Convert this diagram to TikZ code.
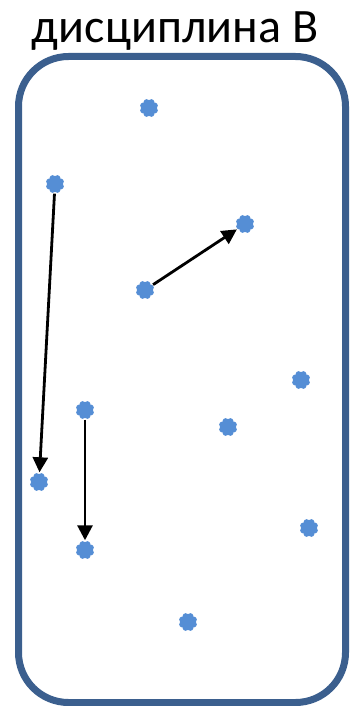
\documentclass[tikz,border=0pt]{standalone}
\usepackage{fontspec}
\setmainfont{Carlito}
\usetikzlibrary{arrows.meta}
\definecolor{frameblue}{HTML}{3B5F8E}
\definecolor{dotblue}{HTML}{558ED5}
\tikzset{
  frame/.style={draw=frameblue, line width=7pt, rounded corners=50pt},
  dotnode/.style={circle, inner sep=0pt, minimum size=19pt},
  link/.style={line width=2.8pt, -{Triangle[width=15pt,length=15pt]}},
  heading/.style={font=\fontsize{48}{54}\selectfont, anchor=base, inner sep=0pt}
}
% an eight-lobed dot placed as a named node
\newcommand\flowerdot[2]{%
  \node[dotnode] (#1) at (#2) {};
  \fill[dotblue] (#1.center) circle (6.8pt);
  \foreach \a in {0,45,...,315}
    \fill[dotblue] (#1.center) ++(\a+22.5:6.2pt) circle (3.1pt);
}
\begin{document}
\begin{tikzpicture}[x=1pt, y=-1pt]
  \useasboundingbox (0,0) rectangle (349,706);
  \node[heading] (title) at (175,43) {дисциплина B};
  \draw[frame] (18.5,56.5) rectangle (345.5,702.5);

  \flowerdot{d1}{149,108}
  \flowerdot{d2}{55,184}
  \flowerdot{d3}{245,224}
  \flowerdot{d4}{145,290}
  \flowerdot{d5}{301,380}
  \flowerdot{d6}{85,410}
  \flowerdot{d7}{228,427}
  \flowerdot{d8}{39,482}
  \flowerdot{d9}{309,528}
  \flowerdot{d10}{85,550}
  \flowerdot{d11}{188,622}

  \draw[link] (d2) -- (d8);
  \draw[link] (d4) -- (d3);
  \draw[link] (d6) -- (d10);
\end{tikzpicture}
\end{document}
